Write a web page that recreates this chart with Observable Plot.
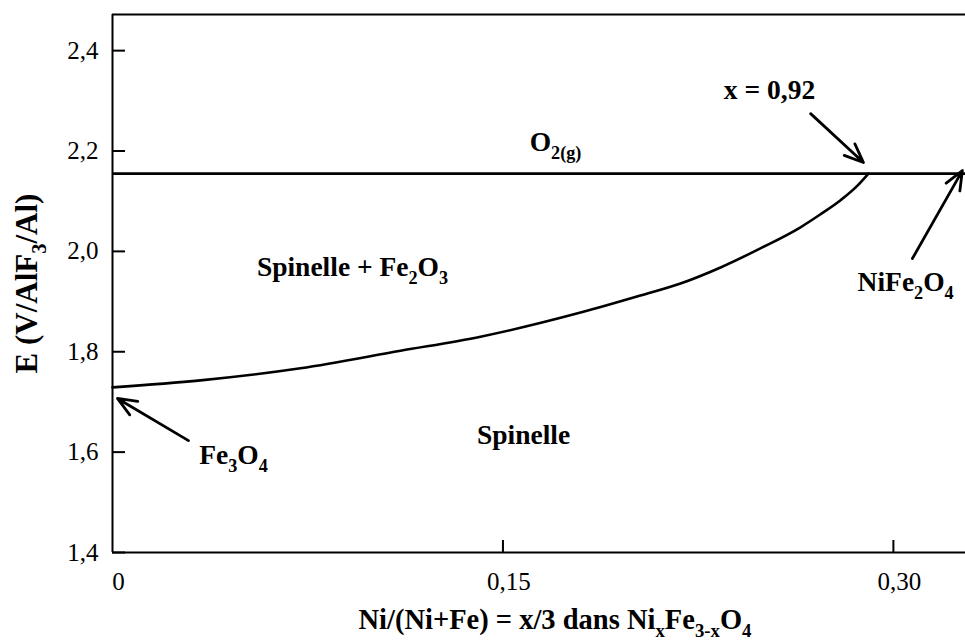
<!DOCTYPE html>
<html>
<head>
<meta charset="utf-8">
<script src="https://cdn.jsdelivr.net/npm/d3@7"></script>
<script src="https://cdn.jsdelivr.net/npm/@observablehq/plot@0.6"></script>
<style>
  html, body { margin: 0; padding: 0; background: #fff; }
  #chart svg { display: block; }
</style>
</head>
<body>
<div id="chart"></div>
<script>
// ---- data ----
const xTicks = [0, 0.15, 0.30];
const yTicks = [1.4, 1.6, 1.8, 2.0, 2.2, 2.4];
const xDomain = [0, 0.3277];
const yDomain = [1.4, 2.472];

// phase boundary Spinelle / Spinelle + Fe2O3
const curveX = [0, 0.0338, 0.0722, 0.1107, 0.1414, 0.1798, 0.2028, 0.2182, 0.2336, 0.2489, 0.2643, 0.2720, 0.2797, 0.2862, 0.2904];
const curveE = [1.729, 1.743, 1.767, 1.802, 1.830, 1.878, 1.912, 1.936, 1.968, 2.006, 2.048, 2.074, 2.102, 2.131, 2.155];

// O2 evolution level
const o2E = 2.155;

// annotations
const labelText = ["x = 0,92", "NiFe_{2}O_{4}", "O_{2(g)}", "Spinelle + Fe_{2}O_{3}", "Spinelle", "Fe_{3}O_{4}"];
const labelX    = [0.2524, 0.3047, 0.1702, 0.0922, 0.1579, 0.0465];
const labelE    = [2.322, 1.938, 2.217, 1.968, 1.633, 1.593];

const arrowX1 = [0.2682, 0.3073, 0.0292];
const arrowE1 = [2.2745, 1.9857, 1.623];
const arrowX2 = [0.2885, 0.3265, 0.0019];
const arrowE2 = [2.177, 2.161, 1.707];

const yTitle = "E (V/AlF_{3}/Al)";
const xTitle = "Ni/(Ni+Fe) = x/3 dans Ni_{x}Fe_{3-x}O_{4}";

// ---- tables ----
const curve = curveX.map((x, i) => ({x, e: curveE[i]}));
const labels = labelText.map((t, i) => ({t, x: labelX[i], e: labelE[i]}));
const arrows = arrowX1.map((x1, i) => ({x1, y1: arrowE1[i], x2: arrowX2[i], y2: arrowE2[i]}));

const FONT = "Liberation Serif";
const comma = (s) => s.replace(".", ",");
const fmtY = (d) => comma(d3.format(".1f")(d));
const fmtX = (d) => d === 0 ? "0" : comma(d3.format(".2f")(d));

const plot = Plot.plot({
  width: 965,
  height: 641,
  marginLeft: 112,
  marginRight: 0,
  marginTop: 14,
  marginBottom: 89,
  style: {fontFamily: FONT, fontSize: "25px", color: "#000", background: "#fff"},
  x: {domain: xDomain},
  y: {domain: yDomain},
  marks: [
    // frame
    Plot.ruleY([yDomain[0], yDomain[1]], {stroke: "#000", strokeWidth: 2}),
    Plot.ruleX([xDomain[0]], {stroke: "#000", strokeWidth: 2}),
    // axes
    Plot.axisY({ticks: yTicks, tickSize: -13, tickPadding: 27, tickFormat: fmtY, strokeWidth: 2, stroke: "#000", fill: "#000", fontFamily: FONT, fontSize: 25}),
    Plot.axisX({ticks: xTicks.filter(d => d > 0), tickSize: -12, tickFormat: () => "", strokeWidth: 2, stroke: "#000"}),
    Plot.axisX({ticks: xTicks, tickSize: 0, tickPadding: 20, tickFormat: fmtX, dx: 6, fill: "#000", fontFamily: FONT, fontSize: 25}),
    // O2 line
    Plot.ruleY([o2E], {stroke: "#000", strokeWidth: 2.6}),
    // boundary curve
    Plot.line(curve, {x: "x", y: "e", curve: "monotone-x", stroke: "#000", strokeWidth: 2.6}),
    // arrows
    Plot.arrow(arrows, {x1: "x1", y1: "y1", x2: "x2", y2: "y2", stroke: "#000", strokeWidth: 2.8, headLength: 11, headAngle: 45}),
    // labels
    Plot.text(labels, {x: "x", y: "e", text: "t", fontWeight: "bold", fontFamily: FONT, fontSize: 27.5, fill: "#000"}),
    // axis titles
    Plot.text([yTitle], {text: d => d, frameAnchor: "left", textAnchor: "middle", dx: -85, rotate: -90, fontWeight: "bold", fontFamily: FONT, fontSize: 31, fill: "#000"}),
    Plot.text([xTitle], {text: d => d, frameAnchor: "bottom", textAnchor: "middle", dx: 16, dy: 76, fontWeight: "bold", fontFamily: FONT, fontSize: 28.5, fill: "#000"})
  ]
});

document.getElementById("chart").appendChild(plot);

// rich text: turn _{...} into subscript tspans
const svgns = "http://www.w3.org/2000/svg";
d3.select(plot).selectAll("text").each(function() {
  const s = this.textContent;
  if (!s.includes("_{")) return;
  const fs = parseFloat(getComputedStyle(this).fontSize) || 25;
  const shift = 0.28 * fs;
  this.textContent = "";
  const re = /_\{([^}]*)\}|([^_]+)/g;
  let m, inSub = false;
  while ((m = re.exec(s))) {
    const t = document.createElementNS(svgns, "tspan");
    if (m[1] !== undefined) {
      t.textContent = m[1];
      t.setAttribute("font-size", (fs * 0.66).toFixed(1));
      if (!inSub) t.setAttribute("dy", shift.toFixed(1));
      inSub = true;
    } else {
      t.textContent = m[2];
      if (inSub) t.setAttribute("dy", (-shift).toFixed(1));
      inSub = false;
    }
    this.appendChild(t);
  }
});
</script>
</body>
</html>
